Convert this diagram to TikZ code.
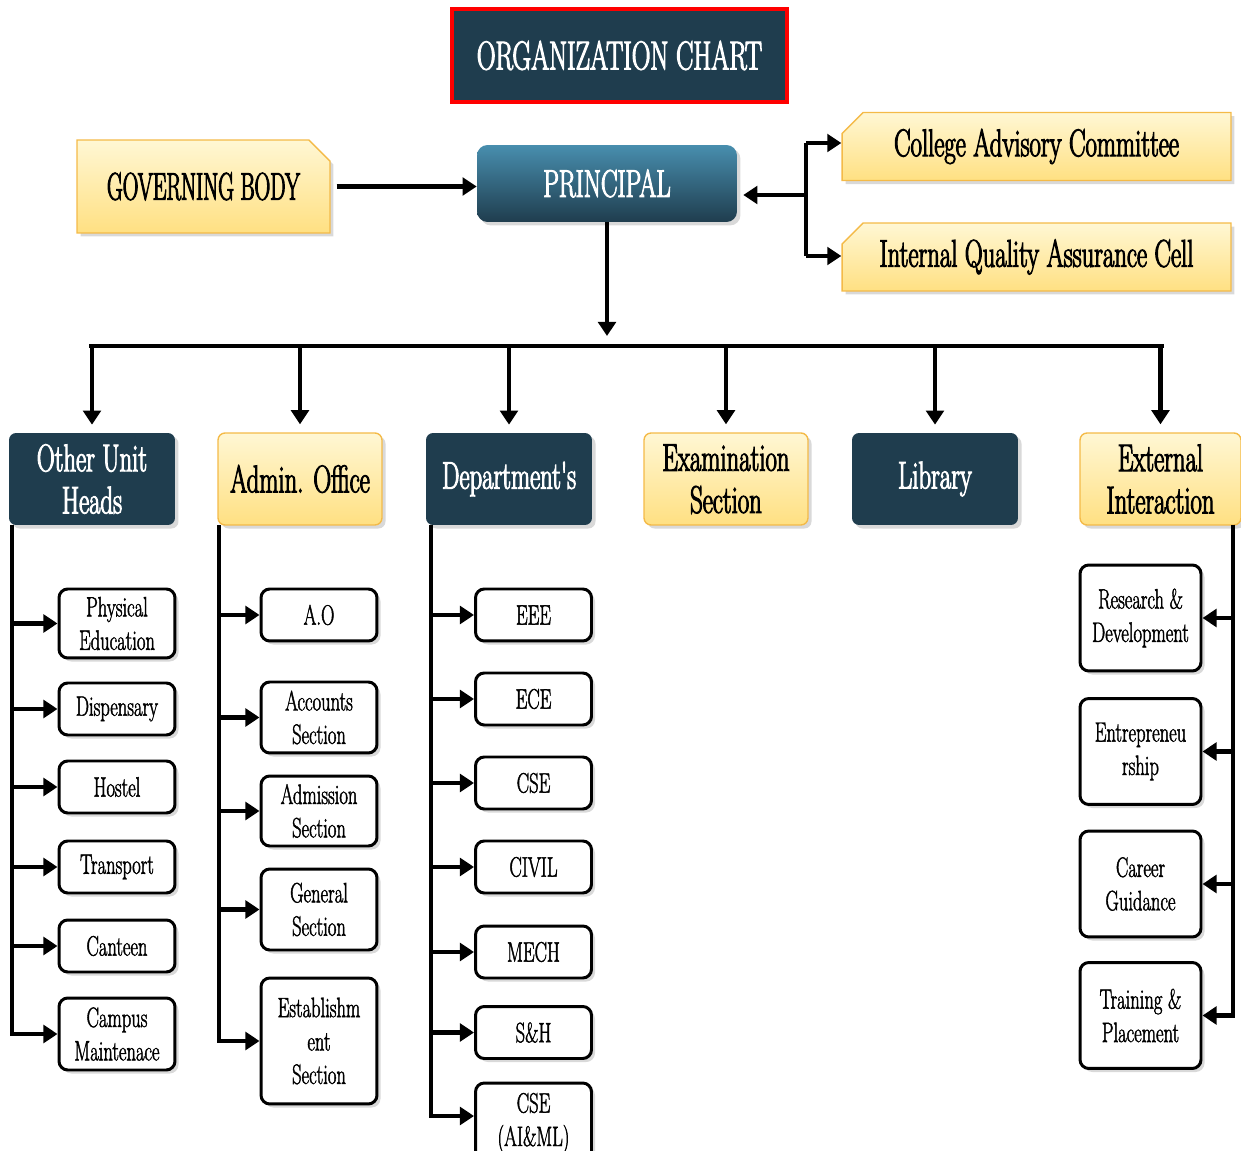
\documentclass[tikz,border=0pt]{standalone}
\usepackage{fontspec}
\setmainfont{Latin Modern Roman}[FakeStretch=0.66, FakeBold=1.5]
\newfontfamily\headfam{Latin Modern Roman}[FakeStretch=0.64, FakeBold=2.5]
\newfontfamily\govfam{Latin Modern Roman}[FakeStretch=0.56, FakeBold=2.5]
\usetikzlibrary{arrows.meta,shadows,shapes.misc}

\definecolor{navy}{RGB}{31,61,78}
\definecolor{navytop}{RGB}{72,142,174}
\definecolor{paleyel}{RGB}{255,247,212}
\definecolor{deepyel}{RGB}{255,224,130}
\definecolor{yelline}{RGB}{244,186,72}

\newcommand\leaffont{\fontsize{16}{19}\selectfont}
\newcommand\headfont{\headfam\fontsize{22}{24}\selectfont}

\tikzset{
  line/.style={line width=2.6pt, black},
  conn/.style={line, -{Triangle[length=8pt,width=10pt]}},
  shade/.style={drop shadow={shadow xshift=2pt, shadow yshift=-2pt, opacity=0.3}},
  titlebox/.style={fill=navy, draw=red, line width=1.8pt, text=white,
    font=\headfam\fontsize{23}{25}\selectfont, minimum width=6.7cm, minimum height=1.86cm},
  yelbox/.style={top color=paleyel, bottom color=deepyel, draw=yelline, line width=0.8pt,
    align=center, font=\headfont, shade},
  snipbox/.style={yelbox, chamfered rectangle, chamfered rectangle xsep=6pt,
    chamfered rectangle ysep=6pt},
  darkbox/.style={fill=navy, rounded corners=4pt, text=white, align=center, font=\headfont,
    minimum width=3.32cm, minimum height=1.84cm, shade},
  lightbox/.style={yelbox, rounded corners=4pt, minimum width=3.28cm, minimum height=1.84cm},
  leaf/.style={draw, fill=white, line width=1.7pt, rounded corners=5pt, align=center,
    font=\leaffont, inner sep=1pt, minimum width=2.32cm, minimum height=1.04cm, shade}
}

\begin{document}
\begin{tikzpicture}[x=0.02cm, y=-0.02cm]
\useasboundingbox (0,0) rectangle (1241,1151);

% heading
\node[titlebox] (title) at (619.5,55.5) {ORGANIZATION CHART};

% top row
\node[snipbox, chamfered rectangle corners=north east, minimum width=5.06cm,
  minimum height=1.86cm, font=\govfam\fontsize{22}{24}\selectfont] (gov) at (203.5,186.5) {GOVERNING BODY};
\node[rounded corners=6pt, top color=navytop, bottom color=navy, text=white, font=\headfont,
  minimum width=5.2cm, minimum height=1.54cm, shade] (principal) at (607,183.5) {PRINCIPAL};
\node[snipbox, chamfered rectangle corners=north west, minimum width=7.78cm,
  minimum height=1.34cm] (cac) at (1036.5,146.5) {College Advisory Committee};
\node[snipbox, chamfered rectangle corners=north west, minimum width=7.78cm,
  minimum height=1.32cm] (iqac) at (1036.5,257) {Internal Quality Assurance Cell};

\draw[conn, shorten <=0.12cm] (gov.east) -- (principal.west |- gov.east);

\coordinate (sideT) at (806,143);
\coordinate (sideM) at (806,195);
\coordinate (sideB) at (806,256);
\draw[line] (sideT) -- (sideB);
\draw[conn] (sideT) -- (cac.west |- sideT);
\draw[conn] (sideB) -- (iqac.west |- sideB);
\draw[conn, shorten >=0.12cm] (sideM) -- (principal.east |- sideM);

% second row
\node[darkbox] (ouh) at (92,479) {Other Unit\\Heads};
\node[lightbox] (admin) at (300,479) {Admin. Office};
\node[darkbox] (dept) at (509,479) {Department's};
\node[lightbox] (exam) at (726,479) {Examination\\Section};
\node[darkbox] (lib) at (935,479) {Library};
\node[lightbox, minimum width=3.22cm] (ext) at (1160.5,479) {External\\Interaction};

\coordinate (busL) at (89,346);
\coordinate (busR) at (1164,346);
\draw[conn, shorten >=0.2cm] (principal.south) -- (principal.south |- busL);
\draw[line] (busL) -- (busR);
\foreach \n in {ouh,admin,dept,exam,lib,ext}
  \draw[conn, shorten >=0.16cm] (\n.north |- busL) -- (\n.north);

% other unit heads
\node[leaf, minimum height=1.38cm] (pe) at (117,623.5) {Physical\\Education};
\node[leaf] (disp) at (117,709) {Dispensary};
\node[leaf] (hostel) at (117,787) {Hostel};
\node[leaf] (transp) at (117,867) {Transport};
\node[leaf] (canteen) at (117,946) {Canteen};
\node[leaf, minimum height=1.44cm] (campus) at (117,1034) {Campus\\Maintenace};

\coordinate (ouhtrunk) at (12,525);
\draw[conn] (ouhtrunk) |- (campus.west);
\foreach \n in {pe,disp,hostel,transp,canteen}
  \draw[conn] (\n.west -| ouhtrunk) -- (\n.west);

% admin office
\node[leaf] (ao) at (319,615) {A.O};
\node[leaf, minimum height=1.42cm] (acc) at (319,717.5) {Accounts\\Section};
\node[leaf, minimum height=1.40cm] (adm) at (319,811) {Admission\\Section};
\node[leaf, minimum height=1.62cm] (gen) at (319,909.5) {General\\Section};
\node[leaf, minimum height=2.52cm] (est) at (319,1041) {Establishm\\ent\\Section};

\coordinate (admtrunk) at (219,525);
\draw[conn] (admtrunk) |- (est.west);
\foreach \n in {ao,acc,adm,gen}
  \draw[conn] (\n.west -| admtrunk) -- (\n.west);

% departments
\node[leaf] (eee) at (533.5,615) {EEE};
\node[leaf] (ece) at (533.5,699) {ECE};
\node[leaf] (cse) at (533.5,783) {CSE};
\node[leaf] (civil) at (533.5,867) {CIVIL};
\node[leaf] (mech) at (533.5,952) {MECH};
\node[leaf] (sh) at (533.5,1032.5) {S\&H};
\node[leaf, minimum height=1.6cm] (aiml) at (533.5,1123) {CSE\\(AI\&ML)};

\coordinate (depttrunk) at (431,525);
\draw[conn] (depttrunk) |- (aiml.west |- 0,1116);
\foreach \n in {eee,ece,cse,civil,mech,sh}
  \draw[conn] (\n.west -| depttrunk) -- (\n.west);

% external interaction
\node[leaf, minimum width=2.42cm, minimum height=2.12cm] (rd) at (1140.5,618) {Research \&\\Development};
\node[leaf, minimum width=2.42cm, minimum height=2.12cm] (ent) at (1140.5,751.5) {Entrepreneu\\rship};
\node[leaf, minimum width=2.42cm, minimum height=2.12cm] (car) at (1140.5,884) {Career\\Guidance};
\node[leaf, minimum width=2.42cm, minimum height=2.12cm] (tp) at (1140.5,1015.5) {Training \&\\Placement};

\coordinate (exttrunk) at (1233,525);
\draw[conn] (exttrunk) |- (tp.east);
\foreach \n in {rd,ent,car}
  \draw[conn] (\n.east -| exttrunk) -- (\n.east);

\end{tikzpicture}
\end{document}
